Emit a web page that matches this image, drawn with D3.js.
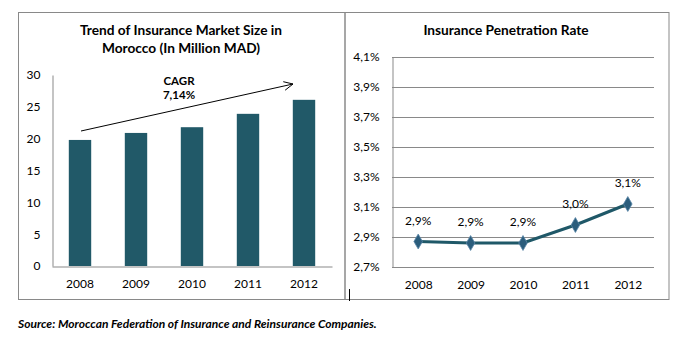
<!DOCTYPE html>
<html><head><meta charset="utf-8">
<script src="https://cdn.jsdelivr.net/npm/d3@7"></script>
<style>body{margin:0;background:#fff}svg{display:block}text{font-family:Lato,"Noto Sans",sans-serif;fill:#000}</style>
</head><body>
<svg id="c" width="686" height="341"></svg>
<script>
const years = ["2008","2009","2010","2011","2012"];
const marketSize = [19.8, 20.9, 21.8, 23.9, 26.1];
const penetration = [2.87, 2.86, 2.86, 2.98, 3.12];
const penetrationLabels = ["2,9%","2,9%","2,9%","3,0%","3,1%"];
const leftTicks = [0,5,10,15,20,25,30];
const rightTicks = [2.7,2.9,3.1,3.3,3.5,3.7,3.9,4.1];
const cagrText = ["CAGR","7,14%"];

const svg = d3.select("#c");
const grey = "#898989";
const teal = "#215968";

// panel frames
svg.append("rect").attr("x",18.5).attr("y",12.5).attr("width",326.5).attr("height",287).attr("fill","none").attr("stroke",grey);
svg.append("rect").attr("x",345).attr("y",12.5).attr("width",324).attr("height",287).attr("fill","none").attr("stroke",grey);
// cursor mark
svg.append("line").attr("x1",349.5).attr("x2",349.5).attr("y1",289).attr("y2",301).attr("stroke","#000");

// ---- Left chart
const xL = d3.scaleBand().domain(years).range([52,332]).paddingInner(0.6).paddingOuter(0.3);
const yL = d3.scaleLinear().domain([0,30]).range([266,75]);

svg.append("g").selectAll("rect").data(years).join("rect")
  .attr("x",d=>xL(d)).attr("width",xL.bandwidth())
  .attr("y",(d,i)=>yL(marketSize[i])).attr("height",(d,i)=>yL(0)-yL(marketSize[i]))
  .attr("fill",teal);

const gyL = svg.append("g").attr("transform","translate(52.5,0)")
  .call(d3.axisLeft(yL).tickValues(leftTicks).tickSize(0).tickPadding(12));
gyL.select(".domain").attr("stroke",grey);
gyL.selectAll("text").attr("font-size",12).attr("font-family","Lato").attr("fill","#000");

const gxL = svg.append("g").attr("transform","translate(0,266.5)")
  .call(d3.axisBottom(xL).tickSize(0).tickPadding(13).tickSizeOuter(0));
gxL.select(".domain").attr("stroke",grey);
gxL.selectAll("text").attr("font-size",12).attr("font-family","Lato").attr("fill","#000");

svg.append("text").attr("x",181).attr("y",35).attr("text-anchor","middle").attr("font-weight","bold").attr("font-size",13.7).text("Trend of Insurance Market Size in");
svg.append("text").attr("x",181).attr("y",53).attr("text-anchor","middle").attr("font-weight","bold").attr("font-size",13.7).text("Morocco (In Million MAD)");

svg.append("text").attr("x",179).attr("y",85).attr("text-anchor","middle").attr("font-weight","bold").attr("font-size",11.5).text(cagrText[0]);
svg.append("text").attr("x",179).attr("y",99).attr("text-anchor","middle").attr("font-weight","bold").attr("font-size",11.5).text(cagrText[1]);

// arrow
const ax1 = 81, ay1 = 131, ax2 = 293, ay2 = 84;
svg.append("line").attr("x1",ax1).attr("y1",ay1).attr("x2",ax2).attr("y2",ay2).attr("stroke","#000").attr("stroke-width",1);
const ang = Math.atan2(ay2-ay1, ax2-ax1);
const hl = 10, ha = 0.45;
svg.append("path").attr("d",`M${ax2-hl*Math.cos(ang-ha)},${ay2-hl*Math.sin(ang-ha)}L${ax2},${ay2}L${ax2-hl*Math.cos(ang+ha)},${ay2-hl*Math.sin(ang+ha)}`)
  .attr("fill","none").attr("stroke","#000").attr("stroke-width",1);

// ---- Right chart
const xR = d3.scalePoint().domain(years).range([392,654]).padding(0.5);
const yR = d3.scaleLinear().domain([2.7,4.1]).range([267,57]);

svg.append("g").selectAll("line").data(rightTicks).join("line")
  .attr("x1",392).attr("x2",654).attr("y1",d=>Math.round(yR(d))+0.5).attr("y2",d=>Math.round(yR(d))+0.5)
  .attr("stroke",grey);

const gyR = svg.append("g").attr("transform","translate(392.5,0)")
  .call(d3.axisLeft(yR).tickValues(rightTicks).tickSize(0).tickPadding(13).tickFormat(d=>d.toFixed(1).replace(".",",")+"%"));
gyR.select(".domain").attr("stroke",grey);
gyR.selectAll("text").attr("font-size",12).attr("font-family","Lato").attr("fill","#000");

const gxR = svg.append("g").attr("transform","translate(0,267.5)")
  .call(d3.axisBottom(xR).tickSize(0).tickPadding(13).tickSizeOuter(0));
gxR.select(".domain").remove();
gxR.selectAll("text").attr("font-size",12).attr("font-family","Lato").attr("fill","#000");

svg.append("text").attr("x",506).attr("y",35).attr("text-anchor","middle").attr("font-weight","bold").attr("font-size",13.7).text("Insurance Penetration Rate");

const line = d3.line().x((d,i)=>xR(years[i])).y(d=>yR(d));
svg.append("path").datum(penetration).attr("d",line).attr("fill","none").attr("stroke","#1f5868").attr("stroke-width",3);

const sym = d3.symbol().type(d3.symbolDiamond).size(64);
svg.append("g").selectAll("path").data(penetration).join("path")
  .attr("transform",(d,i)=>`translate(${xR(years[i])},${yR(d)})`)
  .attr("d",sym).attr("fill","#2b5d7c").attr("stroke","#5a86a8").attr("stroke-width",0.8);

svg.append("g").selectAll("text").data(penetration).join("text")
  .attr("x",(d,i)=>xR(years[i])).attr("y",d=>yR(d)-17)
  .attr("text-anchor","middle").attr("font-size",12).text((d,i)=>penetrationLabels[i]);

// source
svg.append("text").attr("x",18).attr("y",328).attr("font-weight","bold").attr("font-style","italic").attr("font-size",12)
  .text("Source: Moroccan Federation of Insurance and Reinsurance Companies.");
</script>
</body></html>
